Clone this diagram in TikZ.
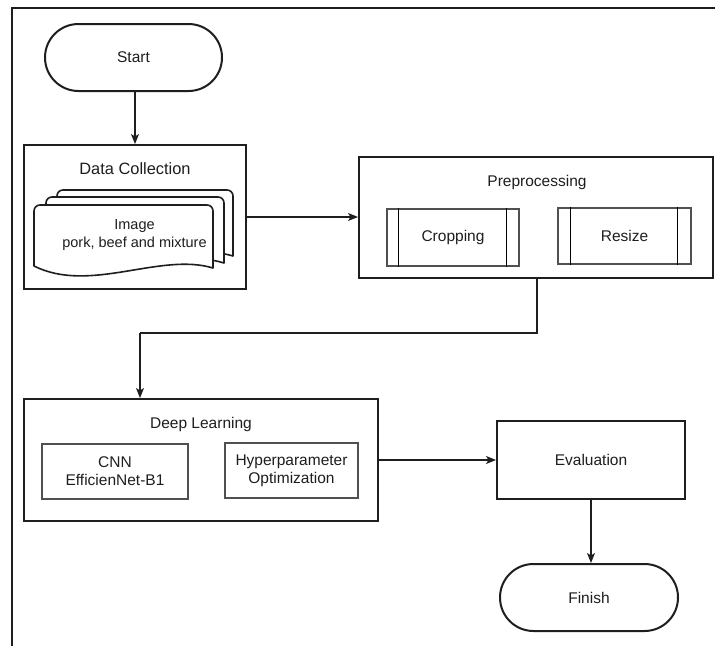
\documentclass[tikz,border=0pt]{standalone}
\usepackage{fontspec}
\setmainfont{Liberation Sans}
\usetikzlibrary{shapes.misc,arrows.meta}
\definecolor{ink}{HTML}{1E1E1E}
\definecolor{thin}{HTML}{505050}
\tikzset{
  txt/.style={font=\fontsize{15.5}{18}\selectfont, text=ink, align=center, inner sep=0pt},
  terminal/.style={txt, draw=ink, line width=2pt, fill=white, rounded rectangle, minimum width=177pt, minimum height=67pt},
  bigbox/.style={draw=ink, line width=2pt, fill=white, rectangle, inner sep=0pt},
  smallbox/.style={txt, draw=thin, line width=1.2pt, fill=white, rectangle},
  docst/.style={draw=ink, line width=1.6pt, fill=white, line join=round},
  arr/.style={draw=ink, line width=1.2pt, -{Stealth[length=10pt,width=8pt,inset=2.5pt]}},
  line/.style={draw=ink, line width=1.2pt},
}
\begin{document}
\begin{tikzpicture}[x=1pt,y=-1pt]
\useasboundingbox (0,0) rectangle (715,646);
\fill[white] (0,0) rectangle (715,646);
% outer frame
\draw[ink, line width=2.2pt] (12,646) -- (12,8) -- (715,8);

% Start
\node[terminal] (start) at (133.5,57.5) {Start};

% Data Collection
\node[bigbox, minimum width=222pt, minimum height=144pt] (dc) at (135,217) {};
\node[txt, font=\fontsize{16.4}{19}\selectfont] (dctitle) at (135,169) {Data Collection};
% stacked documents
\draw[docst] (57,254) -- (57,196) .. controls (57,192.7) and (59.7,190) .. (63,190) -- (227,190) .. controls (230.3,190) and (233,192.7) .. (233,196) -- (233,256) .. controls (180,240) and (110,280) .. (57,254) -- cycle;
\draw[docst] (46,262) -- (46,203) .. controls (46,199.7) and (48.7,197) .. (52,197) -- (218,197) .. controls (221.3,197) and (224,199.7) .. (224,203) -- (224,263) .. controls (170,246) and (100,288) .. (46,262) -- cycle;
\draw[docst] (34,266) -- (34,211) .. controls (34,207.7) and (36.7,205) .. (40,205) -- (207,205) .. controls (210.3,205) and (213,207.7) .. (213,211) -- (213,268) .. controls (160,252) and (90,294) .. (34,266) -- cycle;
\node[txt, font=\fontsize{14.5}{17.5}\selectfont] (img) at (134.5,235) {Image\\pork, beef and mixture};

% Preprocessing
\node[bigbox, minimum width=354pt, minimum height=121pt] (pre) at (536,217.5) {};
\node[txt] (pretitle) at (537,182) {Preprocessing};
\node[smallbox, minimum width=132pt, minimum height=57pt] (crop) at (453,237.5) {Cropping};
\draw[thin, line width=1.2pt] ([xshift=12pt]crop.north west) -- ([xshift=12pt]crop.south west);
\draw[thin, line width=1.2pt] ([xshift=-13pt]crop.north east) -- ([xshift=-13pt]crop.south east);
\node[smallbox, minimum width=133pt, minimum height=56pt] (resize) at (624.5,236) {Resize};
\draw[thin, line width=1.2pt] ([xshift=13pt]resize.north west) -- ([xshift=13pt]resize.south west);
\draw[thin, line width=1.2pt] ([xshift=-14pt]resize.north east) -- ([xshift=-14pt]resize.south east);

% Deep Learning
\node[bigbox, minimum width=354pt, minimum height=122pt] (dl) at (201,460) {};
\node[txt] (dltitle) at (201,424) {Deep Learning};
\node[smallbox, minimum width=146pt, minimum height=55pt] (cnn) at (115,471.5) {CNN\\EfficienNet-B1};
\node[smallbox, minimum width=133pt, minimum height=55pt] (hyp) at (291.5,470.5) {Hyperparameter\\Optimization};

% Evaluation and Finish
\node[bigbox, txt, line width=2pt, draw=ink, minimum width=188pt, minimum height=78pt] (eval) at (591,460) {Evaluation};
\node[terminal, minimum width=178pt] (finish) at (589,597.5) {Finish};

% connectors
\coordinate (b1) at (537,333);
\coordinate (b2) at (140,333);
\draw[arr] (start.south -| dc.north) -- (dc.north);
\draw[arr] (dc.east) -- (dc.east -| pre.west);
\draw[line] (pre.south -| b1) -- (b1) -- (b2);
\draw[arr] (b2) -- (b2 |- dl.north);
\draw[arr] (dl.east) -- (eval.west);
\draw[arr] (eval.south) -- (eval.south |- finish.north);
\end{tikzpicture}
\end{document}
